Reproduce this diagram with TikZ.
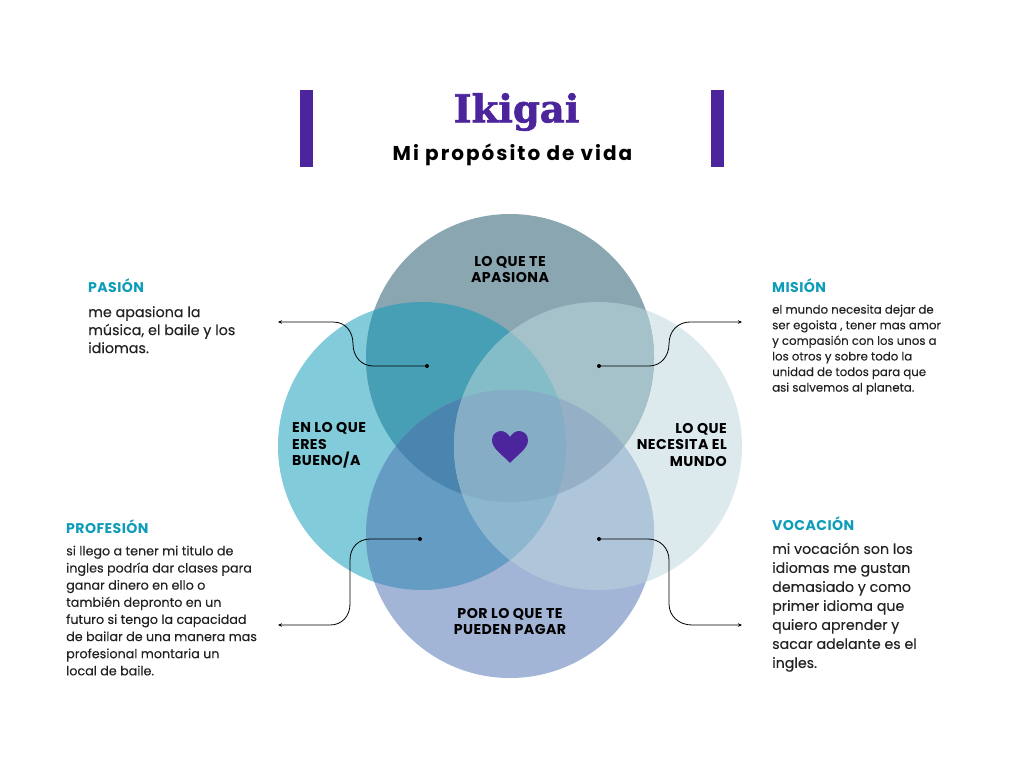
\documentclass[tikz,border=0pt]{standalone}
\usepackage{fontspec}
\setmainfont[FakeBold=0.12,BoldFont={Poppins Bold},BoldFeatures={FakeBold=0,LetterSpace=3}]{Poppins}
\newfontfamily\titlefont[FakeBold=1.6]{DejaVu Serif Bold}
\newfontfamily\subfont[LetterSpace=10]{Poppins}
\usetikzlibrary{arrows.meta}
\definecolor{cT}{HTML}{8AA6B0}\definecolor{cL}{HTML}{82CBDB}\definecolor{cR}{HTML}{DCE9ED}\definecolor{cB}{HTML}{A3B5D7}
\definecolor{cTL}{HTML}{469FB5}\definecolor{cTR}{HTML}{A5C1C9}\definecolor{cLB}{HTML}{659CC3}\definecolor{cRB}{HTML}{AFC5DA}
\definecolor{cTB}{HTML}{8AA8C0}\definecolor{cLR}{HTML}{85BBCA}
\definecolor{cTLR}{HTML}{84BCC8}\definecolor{cTLB}{HTML}{4A85B0}\definecolor{cTRB}{HTML}{94AFC6}\definecolor{cLRB}{HTML}{8DB6CF}\definecolor{cAll}{HTML}{85ADC6}
\definecolor{purp}{HTML}{4C249C}\definecolor{teal}{HTML}{0E9DB8}\definecolor{ink}{HTML}{222222}
\tikzset{
  x=1pt,y=-1pt,
  head/.style={anchor=west,inner sep=0pt,text=teal,font=\fontsize{14.1}{16}\selectfont\bfseries},
  lab/.style={inner sep=0pt,text=black,font=\fontsize{14.2}{16.5}\selectfont\bfseries},
  body/.style={anchor=north west,inner sep=0pt,align=left,text=ink},
  conn/.style={draw=black,line width=0.8pt,{Stealth[length=4pt,width=3.5pt]}-},
  dotm/.style={circle,fill=black,inner sep=0pt,minimum size=4pt},
  bar/.style={fill=purp,draw=none}
}
\newcommand{\cT}{(510,358) circle[radius=144]}
\newcommand{\cL}{(422,446) circle[radius=144]}
\newcommand{\cR}{(598,446) circle[radius=144]}
\newcommand{\cB}{(510,534) circle[radius=144]}
\begin{document}
\begin{tikzpicture}
\useasboundingbox (0,0) rectangle (1024,768);
\fill[white] (0,0) rectangle (1024,768);
% singles
\fill[cR] \cR; \fill[cL] \cL; \fill[cB] \cB; \fill[cT] \cT;
% pairs
\begin{scope}\clip \cT; \fill[cTL] \cL; \fill[cTR] \cR; \fill[cTB] \cB;\end{scope}
\begin{scope}\clip \cB; \fill[cLB] \cL; \fill[cRB] \cR;\end{scope}
% triples
\begin{scope}\clip \cT; \clip \cL; \fill[cTLR] \cR; \fill[cTLB] \cB;\end{scope}
\begin{scope}\clip \cT; \clip \cR; \fill[cTRB] \cB;\end{scope}
\begin{scope}\clip \cL; \clip \cR; \fill[cLRB] \cB;\end{scope}
\begin{scope}\clip \cT; \clip \cL; \clip \cR; \fill[cAll] \cB;\end{scope}
% heart
\fill[purp] (510,463) .. controls (503,455) and (492,449) .. (492,440)
  .. controls (492,434) and (497,431) .. (501,431)
  .. controls (505,431) and (508,434) .. (510,437)
  .. controls (512,434) and (515,431) .. (519,431)
  .. controls (523,431) and (528,434) .. (528,440)
  .. controls (528,449) and (517,455) .. (510,463) -- cycle;
% title
\fill[bar] (300,90) rectangle (313,167);
\fill[bar] (711,90) rectangle (724,167);
\node[inner sep=0pt,text=purp] (title) at (516.5,112) {\titlefont\fontsize{38.5}{40}\selectfont Ikigai};
\node[inner sep=0pt,text=black] (subtitle) at (512.5,154.5) {\subfont\bfseries\fontsize{20}{22}\selectfont Mi propósito de vida};
% circle labels
\node[lab,align=center] (lt) at (510,269.5) {LO QUE TE\\APASIONA};
\node[lab,align=left,anchor=west] (ll) at (292,445.5) {EN LO QUE\\ERES\\BUENO/A};
\node[lab,align=right,anchor=east] (lr) at (727,444.5) {LO QUE\\NECESITA EL\\MUNDO};
\node[lab,align=center] (lb) at (510,621.5) {POR LO QUE TE\\PUEDEN PAGAR};
% headings
\node[head] (hp) at (88,285.5) {PASIÓN};
\node[head] (hm) at (772,285.5) {MISIÓN};
\node[head] (hf) at (66,526.5) {PROFESIÓN};
\node[head] (hv) at (772,523.5) {VOCACIÓN};
% bodies
\node[body,font=\fontsize{14.3}{18}\selectfont] (bp) at (88,306) {me apasiona la\\música, el baile y los\\idiomas.};
\node[body,font=\fontsize{11.75}{15.6}\selectfont] (bm) at (772,304.5) {el mundo necesita dejar de\\ser egoista , tener mas amor\\y compasión con los unos a\\los otros y sobre todo la\\unidad de todos para que\\asi salvemos al planeta.};
\node[body,font=\fontsize{12.7}{17.14}\selectfont] (bf) at (66,545.5) {si llego a tener mi titulo de\\ingles podría dar clases para\\ganar dinero en ello o\\también depronto en un\\futuro si tengo la capacidad\\de bailar de una manera mas\\profesional montaria un\\local de baile.};
\node[body,font=\fontsize{14.2}{19}\selectfont] (bv) at (772,542.5) {mi vocación son los\\idiomas me gustan\\demasiado y como\\primer idioma que\\quiero aprender y\\sacar adelante es el\\ingles.};
% connectors
\node[dotm] (d1) at (427,366) {}; \coordinate (e1) at (278,322);
\node[dotm] (d2) at (420,539) {}; \coordinate (e2) at (278,625);
\node[dotm] (d3) at (599,366) {}; \coordinate (e3) at (742,322);
\node[dotm] (d4) at (599,539) {}; \coordinate (e4) at (742,625);
\draw[conn] (e1) -- (333,322) .. controls (346,322) and (353,332) .. (353,344)
  .. controls (353,356) and (361,366) .. (373,366) -- (d1.center);
\draw[conn] (e2) -- (330,625) .. controls (342,625) and (350,616) .. (350,604)
  -- (350,560) .. controls (350,548) and (358,539) .. (370,539) -- (d2.center);
\draw[conn] (e3) -- (690,322) .. controls (678,322) and (669,331) .. (669,344)
  .. controls (669,356) and (661,366) .. (649,366) -- (d3.center);
\draw[conn] (e4) -- (692,625) .. controls (679,625) and (669,616) .. (669,604)
  -- (669,560) .. controls (669,548) and (660,539) .. (648,539) -- (d4.center);
\end{tikzpicture}
\end{document}
